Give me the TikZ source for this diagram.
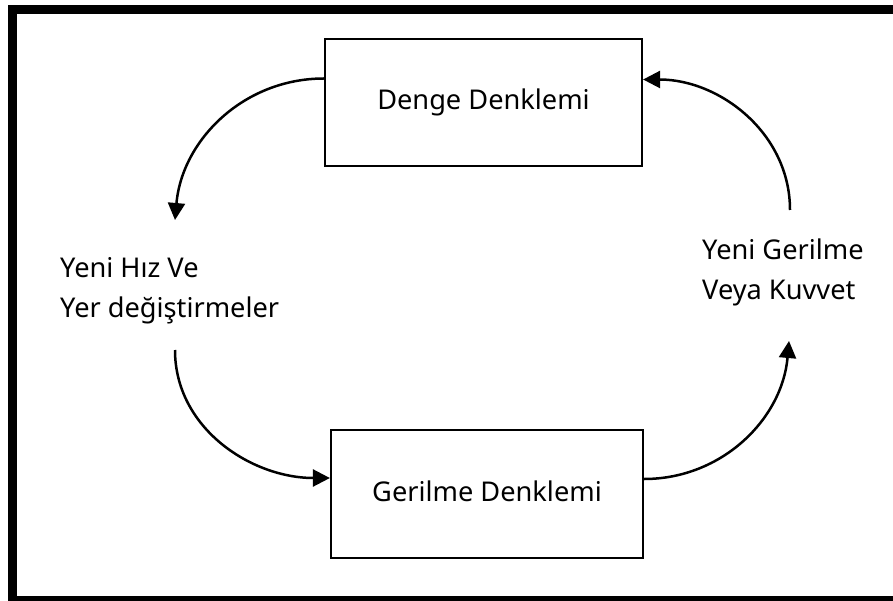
\documentclass[tikz,border=0pt]{standalone}
\usepackage{fontspec}
\setmainfont{Noto Sans}
\usetikzlibrary{arrows.meta}
\usetikzlibrary{positioning}

\tikzset{
  eqbox/.style={draw, line width=2.2bp, inner sep=0pt,
    text height=21bp, text depth=7bp},
  flow/.style={line width=2.5bp, -{Triangle[length=17bp,width=17bp]}},
  sidetext/.style={align=left, inner sep=0pt, anchor=base west},
}

\begin{document}
\begin{tikzpicture}[x=1bp, y=-1bp, font=\fontsize{27.3}{39.2}\selectfont]
  \useasboundingbox (0,0) rectangle (893,601);

  % outer frame, its right side lies off the page
  \draw[line width=9bp] (893,9.5) -- (12.5,9.5) -- (12.5,600.5) -- (893,600.5);

  % the two equations
  \node[eqbox, minimum width=317bp, minimum height=127bp] (Denge)
    at (483.5,102.5) {Denge Denklemi};
  \node[eqbox, minimum width=312bp, minimum height=128bp] (Gerilme)
    at (487,494) {Gerilme Denklemi};

  % what they hand over to each other
  \node[sidetext] (HizYer) at (60,317) {Yeni Hız Ve\\Yer değiştirmeler};
  \node[sidetext] (Kuvvet) at (702,299) {Yeni Gerilme\\Veya Kuvvet};

  \coordinate (HizIn)   at (175,220);
  \coordinate (HizOut)  at (175,350);
  \coordinate (KuvIn)   at (789,341);
  \coordinate (KuvOut)  at (790,210);

  \draw[flow] ([yshift=24bp]Denge.west) to[out=180,in=85] (HizIn);
  \draw[flow] (HizOut) to[out=-90,in=180] ([yshift=16bp]Gerilme.west);
  \draw[flow] ([yshift=15bp]Gerilme.east) to[out=0,in=-95] (KuvIn);
  \draw[flow] (KuvOut) to[out=90,in=0] ([yshift=23bp]Denge.east);
\end{tikzpicture}
\end{document}
